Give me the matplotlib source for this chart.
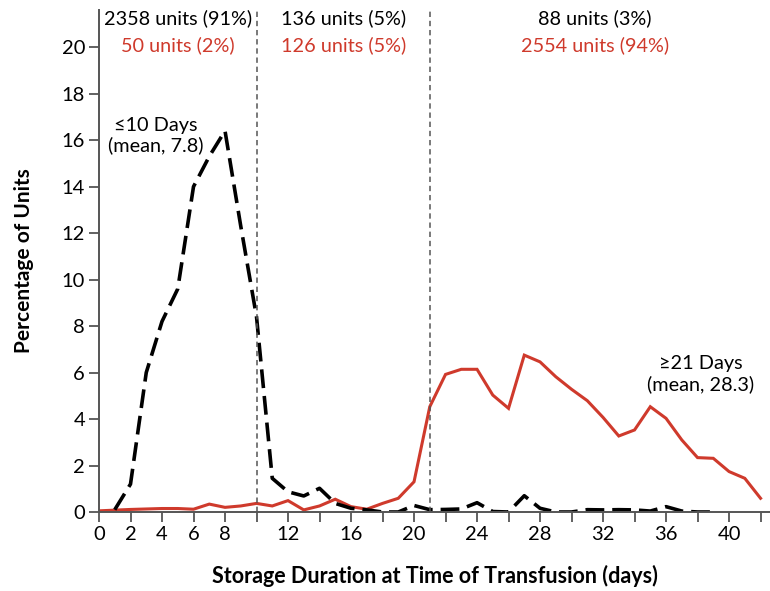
import matplotlib
matplotlib.use("Agg")
import matplotlib.pyplot as plt

plt.rcParams["font.family"] = ["Lato", "DejaVu Sans"]

# black dashed: units from trial group "<=10 days" (days 1..39)
black_days = list(range(1, 40))
black_pct = [0.1, 1.2, 6.0, 8.2, 9.6, 14.0, 15.3, 16.4, 12.3, 8.4,
             1.45, 0.87, 0.69, 1.02, 0.37, 0.16, 0.09, 0.0, 0.0, 0.28,
             0.1, 0.11, 0.13, 0.4, 0.02, 0.0, 0.7, 0.16, 0.0, 0.0,
             0.1, 0.09, 0.1, 0.09, 0.04, 0.23, 0.04, 0.0, 0.0]

# red solid: ">=21 days" group (days 0..42)
red_days = list(range(0, 43))
red_pct = [0.05, 0.08, 0.11, 0.13, 0.15, 0.15, 0.12, 0.34, 0.2, 0.26,
           0.37, 0.26, 0.49, 0.09, 0.26, 0.55, 0.23, 0.12, 0.37, 0.59,
           1.3, 4.53, 5.92, 6.14, 6.14, 5.03, 4.46, 6.75, 6.46, 5.82,
           5.28, 4.79, 4.07, 3.27, 3.53, 4.53, 4.03, 3.1, 2.34, 2.31,
           1.74, 1.45, 0.59]

cutoffs = [10, 21]
black_counts = ["2358 units (91%)", "136 units (5%)", "88 units (3%)"]
red_counts = ["50 units (2%)", "126 units (5%)", "2554 units (94%)"]
count_x = [5, 15.5, 31.5]

red = "#cf3a2c"
grey = "#555555"

fig = plt.figure(figsize=(7.7, 5.91), dpi=100)
ax = fig.add_axes([99 / 770, 79 / 591, 671 / 770, 502 / 591])

ax.plot(red_days, red_pct, color=red, lw=2.2, solid_joinstyle="miter")
ax.plot(black_days, black_pct, color="black", lw=2.6, dashes=(5.2, 2.2))

for c in cutoffs:
    ax.axvline(c, color=grey, lw=1.1, dashes=(3.5, 2.5))

ax.set_xlim(0, 42.6)
ax.set_ylim(0, 21.6)
ax.set_xticks(range(0, 43, 2))
ax.set_xticklabels([str(d) if (d <= 8 or d % 4 == 0) else "" for d in range(0, 43, 2)])
ax.set_yticks(range(0, 21, 2))

for s in ["top", "right"]:
    ax.spines[s].set_visible(False)
for s in ["left", "bottom"]:
    ax.spines[s].set_color(grey)
    ax.spines[s].set_linewidth(1.4)
ax.tick_params(axis="both", colors=grey, labelcolor="black", labelsize=14.5,
               length=7, width=1.3, pad=3)

ax.set_xlabel("Storage Duration at Time of Transfusion (days)",
              fontsize=15.5, fontweight="bold", labelpad=16)
ax.set_ylabel("Percentage of Units", fontsize=15, fontweight="bold", labelpad=20)

for x, bt, rt in zip(count_x, black_counts, red_counts):
    ax.text(x, 21.25, bt, ha="center", va="center", fontsize=14.3, color="black")
    ax.text(x, 20.1, rt, ha="center", va="center", fontsize=14.3, color=red)

ax.text(3.6, 16.2, "≤10 Days\n(mean, 7.8)", ha="center", va="center",
        fontsize=14.3, linespacing=1.2)
ax.text(38.2, 5.95, "≥21 Days\n(mean, 28.3)", ha="center", va="center",
        fontsize=14.3, linespacing=1.2)

fig.savefig("out.png", dpi=100)
